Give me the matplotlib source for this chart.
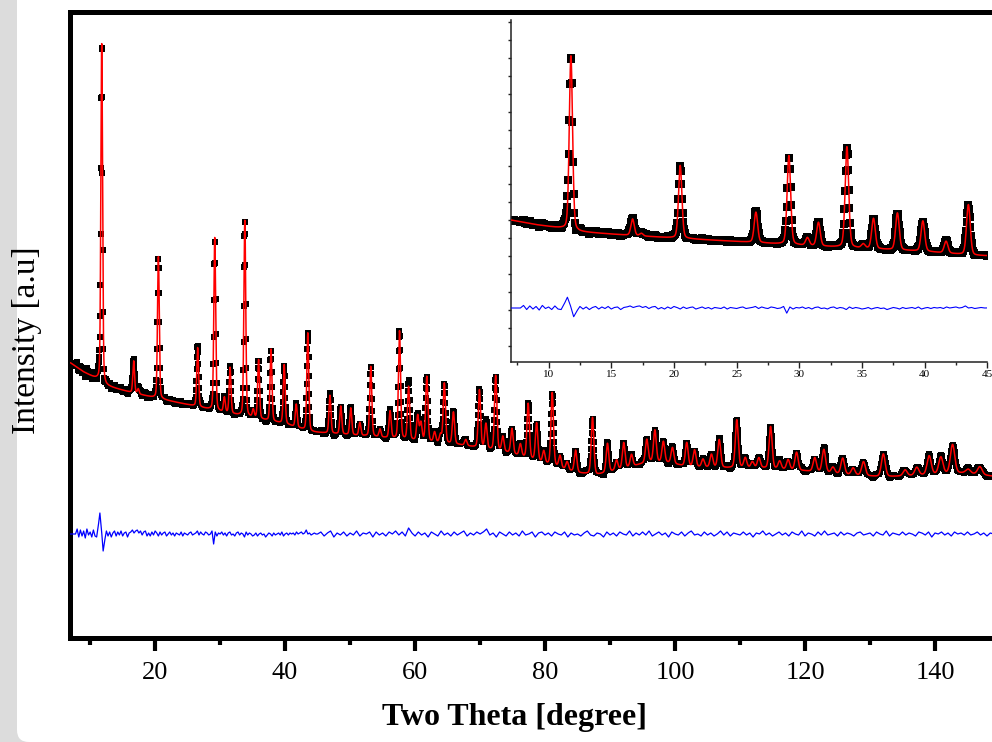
import matplotlib as mpl
import matplotlib.pyplot as plt
import numpy as np
from matplotlib.patches import FancyBboxPatch
from matplotlib.ticker import MultipleLocator
from matplotlib.transforms import IdentityTransform

mpl.rcParams['font.family'] = 'Liberation Serif'

# Bragg peaks: position (deg 2theta) and height above background (a.u.)
peak_pos = [11.78, 16.7, 17.4, 20.5, 26.54, 29.17, 30.65, 31.53, 33.8, 35.1,
            35.92, 37.83, 39.86, 41.71, 43.49, 46.9, 48.56, 50.1, 51.5, 53.18,
            54.6, 56.15, 57.6, 59.0, 60.4, 60.9, 61.8, 63.0, 63.9, 64.5,
            65.9, 67.8, 69.9, 70.9, 72.4, 73.5, 74.9, 76.2, 77.4, 78.7,
            79.8, 81.1, 82.3, 83.4, 84.7, 87.3, 89.6, 91.0, 92.1, 93.3,
            95.65, 96.9, 98.2, 99.6, 101.8, 103.0, 104.3, 105.6, 106.8, 109.5,
            110.8, 111.9, 112.9, 114.7, 116.1, 117.4, 118.7, 121.5, 122.9, 124.3,
            125.8, 127.4, 129.0, 132.05, 135.4, 137.2, 139.1, 140.9, 142.7, 145.1,
            146.9]
peak_height = [339, 32, 5, 142, 59, 173, 15, 46, 196, 8,
               59, 72, 59, 23, 98, 38, 28, 27, 13, 70,
               8, 27, 108, 53, 25, 18, 65, 10, 8, 60,
               32, 6, 58, 25, 75, 15, 25, 12, 55, 38,
               12, 73, 12, 8, 22, 57, 29, 10, 26, 12,
               23, 32, 21, 16, 24, 17, 8, 13, 28, 48,
               10, 6, 10, 42, 8, 10, 18, 14, 23, 6,
               16, 7, 14, 23, 6, 8, 19, 17, 29, 4,
               8]

# background anchor points
bg_theta = [7, 9, 11, 12.5, 16, 20, 26, 30, 35, 40, 44, 54, 67, 74.5, 79,
            85, 88, 92, 96, 99, 102, 108, 113, 120, 127, 132, 139, 144.6, 150]
bg_level = [275, 266, 259, 252, 246, 240, 232, 226, 220, 214, 206, 201, 193, 185, 176,
            165, 163, 169, 176, 175, 171, 170, 170, 167, 163, 161, 163, 165, 161]

# peak width (FWHM, deg) read at a few angles
fwhm_theta = [7, 45, 80, 115, 150]
fwhm_deg = [0.30, 0.35, 0.45, 0.55, 0.85]
eta = 0.25

# difference curve (obs - calc): every 0.25 deg from 7.0 to 45.0 ...
diff_low = [
    0, 0, 0, 0, 5, -3, 4, -2,
    3, -4, 5, -1, 2, -3, 4, -2,
    -3, 8, 21, 4, -17, -6, 3, -2,
    2, -3, 1, 3, -2, 2, -1, 3,
    -2, 1, 2, -3, 1, 2, 4, 1,
    3, 4, 1, 3, -1, 2, 3, -2,
    1, -2, 2, -1, 3, 1, -2, 2,
    -1, 1, 2, -2, 0, 2, -1, 1,
    -2, 1, 0, -1, 2, -2, 1, 0,
    -1, 1, 2, -1, 0, 1, 3, -1,
    2, 0, -1, 2, 1, -1, 0, 3,
    -10, 2, -2, 1, 0, 2, -1, 1,
    -2, 1, 2, -1, 0, -2, 1, 2,
    -1, 1, 0, -3, 2, -1, 1, 0,
    -2, -1, 1, -2, 0, 1, -1, 0,
    -3, -1, 1, 0, -2, 1, -1, 0,
    1, -1, 2, -2, 0, 1, -1, 1,
    0, 1, -1, 2, 0, 1, 2, 0,
    1, 4, 0, 1, -1, 0, 1, 0,
    0,
]
# ... and every 0.5 deg from 45.5 to 150.0
diff_high = [
    2, -2, 1, 3, -3, 1, -1, 2, -2, 1,
    -1, 3, -2, 1, 0, 2, -3, 2, -1, 1,
    -2, 2, 0, 3, -1, 2, -2, 6, 1, -2,
    2, -1, 1, -3, 2, 0, -2, 3, -1, 1,
    -2, 2, -1, 1, 3, -2, 1, -1, 2, 0,
    2, 5, -1, 1, -3, 2, 0, -2, 2, -1,
    1, -2, 3, -1, 0, 2, -3, 1, 2, -1,
    1, -2, 2, 0, -1, 2, -3, 1, -1, 0,
    -2, 1, 3, -1, -2, 1, 0, -3, 2, -1,
    1, -2, 2, 0, -1, 3, -2, 1, -1, 2,
    -1, 3, -2, 0, 2, -1, 1, -3, 2, 0,
    -1, 2, -2, 1, 3, -1, 0, -2, 2, -1,
    1, -2, 0, 3, -1, 2, -2, 1, 0, -1,
    2, -1, 1, -3, 1, 0, 3, -1, 1, -2,
    0, 2, -1, 1, -2, 2, 0, -1, 3, -2,
    1, 0, -2, 2, -1, 3, -1, 0, 1, -2,
    2, -1, 1, 0, -2, 1, 2, -1, 0, 1,
    -2, 2, 0, -1, 3, -2, 1, 0, -1, 2,
    -1, 1, 0, -2, 2, 1, -1, 2, -3, 1,
    0, 2, -1, 1, -2, 2, 0, 1, -1, 2,
    -1, 0, 2, -1, 1, -2, 1, 0, -1, 0,
]
diff_offset = 104


def calc_profile(tth):
    y = np.interp(tth, bg_theta, bg_level)
    widths = np.interp(peak_pos, fwhm_theta, fwhm_deg)
    for p, h, w in zip(peak_pos, peak_height, widths):
        d = (tth - p) / (w / 2)
        y = y + h * ((1 - eta) * np.exp(-np.log(2) * d ** 2) + eta / (1 + d ** 2))
    return y


tth = np.arange(7.0, 150.001, 0.05)
tth_fine = np.arange(7.0, 150.001, 0.01)
diff_tth = np.concatenate([7.0 + 0.25 * np.arange(len(diff_low)),
                           45.5 + 0.5 * np.arange(len(diff_high))])
diff = np.interp(tth, diff_tth, diff_low + diff_high)
calc = calc_profile(tth_fine)
obs = calc_profile(tth) + diff

fig = plt.figure(figsize=(9.92, 7.42), dpi=100, facecolor='#dcdcdc')
panel = FancyBboxPatch((17, 0), 1200, 1000, boxstyle='round,pad=0,rounding_size=12',
                       transform=IdentityTransform(), facecolor='white',
                       edgecolor='none', zorder=-10)
fig.add_artist(panel)

# main pattern
ax = fig.add_axes([70 / 992, 104 / 742, 930 / 992, 626 / 742])
ax.set_facecolor('none')
ax.plot(tth, obs, 's', ms=5, mew=0, color='black', zorder=2)
ax.plot(tth_fine, calc, color='red', lw=1.1, zorder=3)
ax.plot(tth, diff + diff_offset, color='blue', lw=0.9, zorder=3)
ax.set_xlim(6.9, 150)
ax.set_ylim(0, 626)
ax.xaxis.set_major_locator(MultipleLocator(20))
ax.xaxis.set_minor_locator(MultipleLocator(10))
ax.set_yticks(np.arange(31, 627, 35))
ax.set_yticklabels([])
ax.tick_params(axis='x', which='major', direction='out', length=9.4, width=3,
               labelsize=19, pad=8)
ax.tick_params(axis='x', which='minor', direction='out', length=5, width=3)
ax.tick_params(axis='y', direction='inout', length=3, width=1)
for s in ax.spines.values():
    s.set_linewidth(3.6)

fig.text(27 / 992, 1 - 340 / 742, 'Intensity [a.u]', rotation=90, fontsize=24,
         ha='center', va='center')
fig.text(514 / 992, 1 - 718 / 742, 'Two Theta [degree]', fontsize=23,
         fontweight='bold', ha='center', va='center')

# inset: low-angle region
axi = fig.add_axes([511 / 992, 380 / 742, 476.3 / 992, 342 / 742])
axi.set_facecolor('none')
axi.plot(tth, obs, 's', ms=6.2, mew=0, color='black', zorder=2)
axi.plot(tth_fine, calc, color='red', lw=1.1, zorder=3)
axi.plot(tth, diff + diff_offset, color='blue', lw=0.8, zorder=3)
axi.set_xlim(7, 45)
axi.set_ylim(-1, 664)
axi.xaxis.set_major_locator(MultipleLocator(5))
axi.xaxis.set_minor_locator(MultipleLocator(2.5))
axi.set_yticks(np.arange(31, 664, 35))
axi.set_yticklabels([])
axi.spines['top'].set_visible(False)
axi.spines['right'].set_visible(False)
for s in ('left', 'bottom'):
    axi.spines[s].set_linewidth(1.1)
    axi.spines[s].set_color('#222222')
axi.tick_params(axis='x', which='major', length=4.5, width=1, labelsize=8, pad=1,
                color='#222222')
axi.tick_params(axis='x', which='minor', length=2.5, width=1, color='#222222')
axi.tick_params(axis='y', length=2.5, width=1, color='#222222')

fig.savefig('out.png', dpi=100, facecolor=fig.get_facecolor())
